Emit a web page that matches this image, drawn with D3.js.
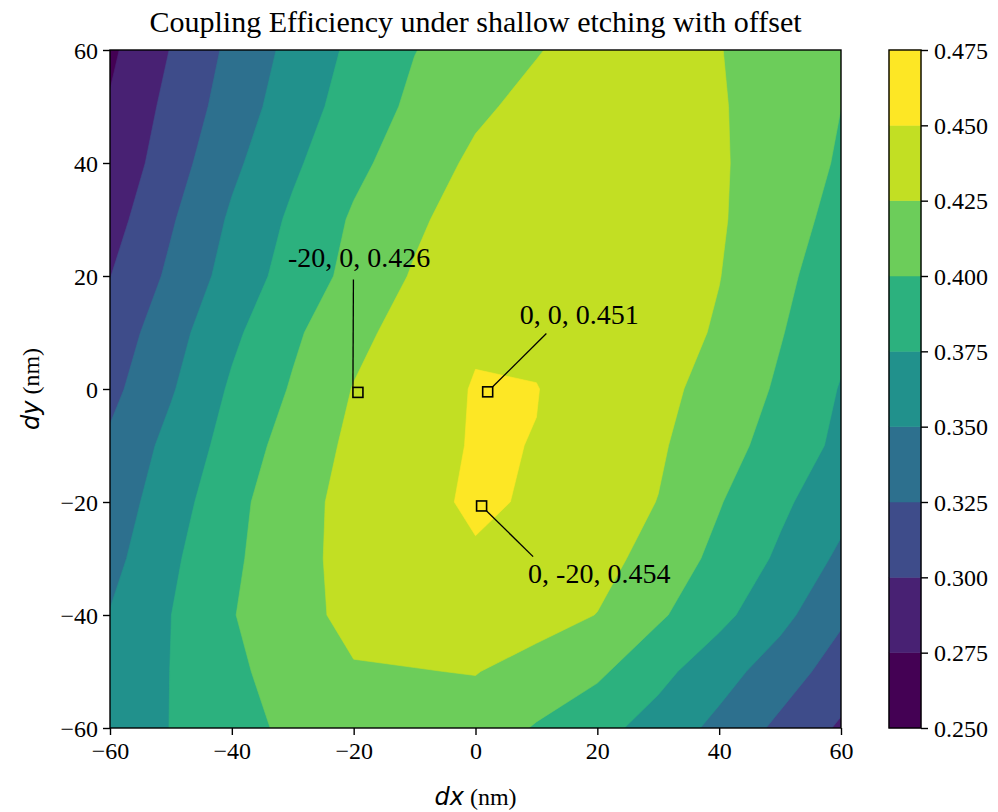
<!DOCTYPE html>
<html>
<head>
<meta charset="utf-8">
<script src="https://cdn.jsdelivr.net/npm/d3@7"></script>
<style>
  body { margin: 0; background: #fff; }
  text { font-family: "Liberation Serif", "Times New Roman", serif; fill: #000; }
</style>
</head>
<body>
<svg id="chart" width="998" height="812"></svg>
<script>
// grid of the sweep (nm)
var dxGrid = [-60, -50, -40, -30, -20, -10, 0, 10, 20, 30, 40, 50, 60];
var dyGrid = [60, 50, 40, 30, 20, 10, 0, -10, -20, -30, -40, -50, -60];

// coupling efficiency, one row per dy (top row = dy 60)
var efficiency = [
  [0.2704, 0.3009, 0.3309, 0.3572, 0.3803, 0.3994, 0.4116, 0.4236, 0.4350, 0.4340, 0.4255, 0.4180, 0.4100],
  [0.2770, 0.3070, 0.3365, 0.3630, 0.3858, 0.4050, 0.4207, 0.4320, 0.4370, 0.4350, 0.4260, 0.4195, 0.4001],
  [0.2812, 0.3137, 0.3448, 0.3708, 0.3940, 0.4126, 0.4296, 0.4360, 0.4400, 0.4370, 0.4278, 0.4124, 0.3975],
  [0.2899, 0.3224, 0.3536, 0.3793, 0.4030, 0.4205, 0.4378, 0.4420, 0.4420, 0.4370, 0.4275, 0.4100, 0.3925],
  [0.2995, 0.3298, 0.3600, 0.3852, 0.4073, 0.4274, 0.4400, 0.4450, 0.4440, 0.4370, 0.4256, 0.4059, 0.3862],
  [0.3097, 0.3403, 0.3700, 0.3958, 0.4178, 0.4360, 0.4470, 0.4460, 0.4420, 0.4360, 0.4223, 0.4015, 0.3806],
  [0.3182, 0.3476, 0.3784, 0.4023, 0.4260, 0.4383, 0.4516, 0.4505, 0.4407, 0.4309, 0.4169, 0.3963, 0.3735],
  [0.3292, 0.3573, 0.3846, 0.4110, 0.4300, 0.4409, 0.4520, 0.4495, 0.4384, 0.4280, 0.4102, 0.3897, 0.3695],
  [0.3360, 0.3640, 0.3921, 0.4170, 0.4320, 0.4425, 0.4540, 0.4470, 0.4354, 0.4245, 0.4014, 0.3799, 0.3585],
  [0.3424, 0.3705, 0.3958, 0.4156, 0.4344, 0.4420, 0.4473, 0.4430, 0.4347, 0.4145, 0.3938, 0.3709, 0.3451],
  [0.3510, 0.3748, 0.3988, 0.4158, 0.4322, 0.4370, 0.4400, 0.4360, 0.4244, 0.4036, 0.3817, 0.3575, 0.3290],
  [0.3560, 0.3754, 0.3940, 0.4128, 0.4230, 0.4241, 0.4260, 0.4140, 0.4044, 0.3820, 0.3601, 0.3374, 0.3136],
  [0.3600, 0.3755, 0.3905, 0.4056, 0.4120, 0.4150, 0.4120, 0.3983, 0.3830, 0.3650, 0.3433, 0.3195, 0.2966]
];

var levels = [0.250, 0.275, 0.300, 0.325, 0.350, 0.375, 0.400, 0.425, 0.450, 0.475];
var axisTicks = [-60, -40, -20, 0, 20, 40, 60];

// marked points
var pointLabels = ["-20, 0, 0.426", "0, 0, 0.451", "0, -20, 0.454"];
var markerX = [-19.3, 2.0, 1.0];
var markerY = [-0.6, -0.5, -20.7];

(function () {
  var svg = d3.select("#chart");
  var pLeft = 110, pRight = 841, pTop = 50, pBottom = 728;

  var x = d3.scaleLinear().domain([-60, 60]).range([pLeft, pRight]);
  var y = d3.scaleLinear().domain([-60, 60]).range([pBottom, pTop]);

  // colours follow the layer midpoints, normalised to the data range
  var flat = efficiency.flat();
  var norm = d3.scaleLinear().domain(d3.extent(flat)).range([0, 1]).clamp(true);
  function bandColor(i) {
    return d3.interpolateViridis(norm((levels[i] + levels[i + 1]) / 2));
  }

  function minusFmt(d) {
    return d < 0 ? "\u2212" + Math.abs(d) : "" + d;
  }

  // contour coords -> pixels (samples sit at cell centres)
  var gx = d3.scaleLinear().domain([0.5, dxGrid.length - 0.5]).range([x(dxGrid[0]), x(dxGrid[dxGrid.length - 1])]);
  var gy = d3.scaleLinear().domain([0.5, dyGrid.length - 0.5]).range([y(dyGrid[0]), y(dyGrid[dyGrid.length - 1])]);

  function ringPath(ring) {
    return "M" + ring.map(function (p) { return gx(p[0]).toFixed(2) + "," + gy(p[1]).toFixed(2); }).join("L") + "Z";
  }
  function bandPath(geom) {
    return geom.coordinates.map(function (poly) {
      return poly.map(ringPath).join("");
    }).join("");
  }

  svg.append("defs").append("clipPath").attr("id", "plotclip")
    .append("rect")
    .attr("x", pLeft).attr("y", pTop)
    .attr("width", pRight - pLeft).attr("height", pBottom - pTop);

  var bands = d3.contours()
    .size([dxGrid.length, dyGrid.length])
    .thresholds(levels.slice(0, -1))(flat);

  svg.append("g")
    .attr("clip-path", "url(#plotclip)")
    .selectAll("path")
    .data(bands)
    .enter()
    .append("path")
    .attr("d", bandPath)
    .attr("fill-rule", "evenodd")
    .attr("fill", function (d, i) { return bandColor(i); })
    .attr("stroke", function (d, i) { return bandColor(i); })
    .attr("stroke-width", 0.6);

  // axes
  var xAxis = svg.append("g")
    .attr("transform", "translate(0," + pBottom + ")")
    .call(d3.axisBottom(x).tickValues(axisTicks).tickSize(7).tickSizeOuter(0).tickFormat(minusFmt));
  var yAxis = svg.append("g")
    .attr("transform", "translate(" + pLeft + ",0)")
    .call(d3.axisLeft(y).tickValues(axisTicks).tickSize(7).tickSizeOuter(0).tickFormat(minusFmt));

  [xAxis, yAxis].forEach(function (ax) {
    ax.select(".domain").remove();
    ax.selectAll(".tick line").attr("stroke", "#000").attr("stroke-width", 1.4);
    ax.selectAll(".tick text")
      .style("font-family", "'Liberation Serif', serif")
      .style("font-size", "24px")
      .attr("fill", "#000");
  });
  xAxis.selectAll(".tick text").attr("y", 12).attr("dy", "0.8em");
  yAxis.selectAll(".tick text").attr("x", -12).attr("dy", "0.34em");

  svg.append("rect")
    .attr("x", pLeft).attr("y", pTop)
    .attr("width", pRight - pLeft).attr("height", pBottom - pTop)
    .attr("fill", "none").attr("stroke", "#000").attr("stroke-width", 1.4);

  // annotations
  var ann = svg.append("g");
  var annLayout = [
    { tx: -70, ty: -125, l1: [-4.5, -113], l2: [-5, -5] },
    { tx: 32, ty: -68, l1: [58.7, -58.4], l2: [5, -5] },
    { tx: 46.5, ty: 77, l1: [5, 5], l2: [51.5, 50.7] }
  ];
  pointLabels.forEach(function (lab, i) {
    var cx = x(markerX[i]), cy = y(markerY[i]);
    var lay = annLayout[i];
    ann.append("line")
      .attr("x1", cx + lay.l1[0]).attr("y1", cy + lay.l1[1])
      .attr("x2", cx + lay.l2[0]).attr("y2", cy + lay.l2[1])
      .attr("stroke", "#000").attr("stroke-width", 1.3);
    ann.append("rect")
      .attr("x", cx - 5).attr("y", cy - 5)
      .attr("width", 10).attr("height", 10)
      .attr("fill", "none").attr("stroke", "#000").attr("stroke-width", 1.6);
    ann.append("text")
      .attr("x", cx + lay.tx).attr("y", cy + lay.ty)
      .style("font-size", "28px")
      .text(lab);
  });

  // title + axis labels
  svg.append("text")
    .attr("x", (pLeft + pRight) / 2).attr("y", 32)
    .attr("text-anchor", "middle")
    .style("font-size", "30px")
    .text("Coupling Efficiency under shallow etching with offset");

  var xl = svg.append("text")
    .attr("x", (pLeft + pRight) / 2).attr("y", 805)
    .attr("text-anchor", "middle")
    .style("font-size", "24px");
  xl.append("tspan").style("font-family", "'DejaVu Sans', sans-serif").style("font-style", "italic").text("dx");
  xl.append("tspan").text(" (nm)");

  var yl = svg.append("text")
    .attr("transform", "translate(39," + (pTop + pBottom) / 2 + ") rotate(-90)")
    .attr("text-anchor", "middle")
    .style("font-size", "24px");
  yl.append("tspan").style("font-family", "'DejaVu Sans', sans-serif").style("font-style", "italic").text("dy");
  yl.append("tspan").text(" (nm)");

  // colorbar
  var cbLeft = 889, cbWidth = 32;
  var cb = d3.scaleLinear().domain([levels[0], levels[levels.length - 1]]).range([pBottom, pTop]);
  svg.append("g")
    .selectAll("rect")
    .data(levels.slice(0, -1))
    .enter()
    .append("rect")
    .attr("x", cbLeft)
    .attr("y", function (d, i) { return cb(levels[i + 1]); })
    .attr("width", cbWidth)
    .attr("height", function (d, i) { return cb(levels[i]) - cb(levels[i + 1]); })
    .attr("fill", function (d, i) { return bandColor(i); })
    .attr("stroke", function (d, i) { return bandColor(i); })
    .attr("stroke-width", 0.5);
  svg.append("rect")
    .attr("x", cbLeft).attr("y", pTop)
    .attr("width", cbWidth).attr("height", pBottom - pTop)
    .attr("fill", "none").attr("stroke", "#000").attr("stroke-width", 1.4);

  var cbAxis = svg.append("g")
    .attr("transform", "translate(" + (cbLeft + cbWidth) + ",0)")
    .call(d3.axisRight(cb).tickValues(levels).tickSize(7).tickSizeOuter(0).tickFormat(d3.format(".3f")));
  cbAxis.select(".domain").remove();
  cbAxis.selectAll(".tick line").attr("stroke", "#000").attr("stroke-width", 1.4);
  cbAxis.selectAll(".tick text")
    .attr("x", 13).attr("dy", "0.34em")
    .style("font-family", "'Liberation Serif', serif")
    .style("font-size", "24px")
    .attr("fill", "#000");
})();
</script>
</body>
</html>
